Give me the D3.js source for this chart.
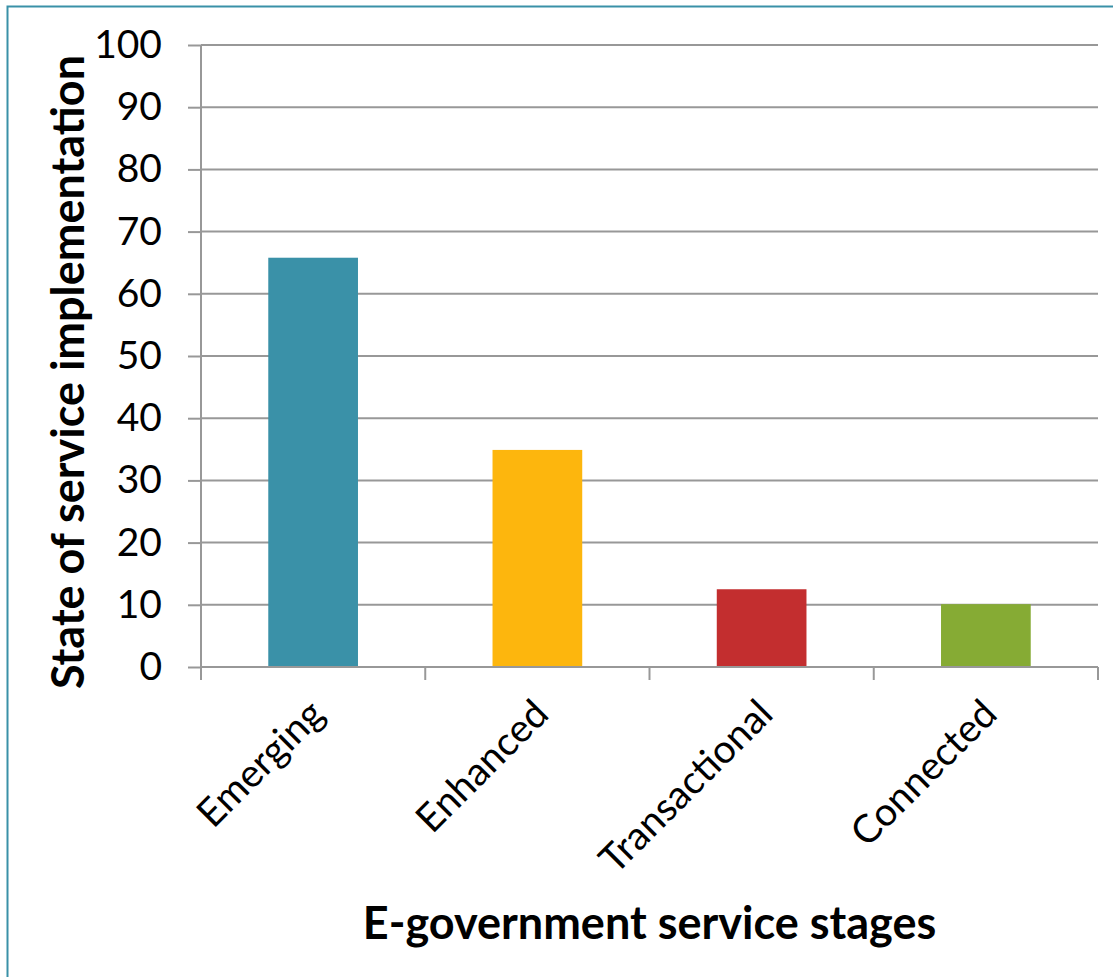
<!DOCTYPE html>
<html>
<head>
<meta charset="utf-8">
<script src="https://cdn.jsdelivr.net/npm/d3@7"></script>
<style>
  html, body { margin: 0; padding: 0; background: #fff; }
  svg { display: block; }
  text { font-family: Lato, "Open Sans", sans-serif; fill: #000; }
</style>
</head>
<body>
<svg id="chart" width="1113" height="977"></svg>
<script>
// E-government service stages and their implementation level
const stages = ["Emerging", "Enhanced", "Transactional", "Connected"];
const implementation = [65.8, 34.9, 12.5, 10.1];
const barColors = ["#3a91a8", "#fdb60d", "#c32e2f", "#86ab34"];
const yTicks = [0, 10, 20, 30, 40, 50, 60, 70, 80, 90, 100];

const svg = d3.select("#chart");
const margin = { left: 201, right: 15, top: 45, bottom: 310 };
const W = 1113, H = 977;

// outer frame
svg.append("rect")
  .attr("x", 7.5).attr("y", 6.5)
  .attr("width", 1120).attr("height", 1000)
  .attr("fill", "none").attr("stroke", "#3a91a8").attr("stroke-width", 2);

const x = d3.scaleBand()
  .domain(stages)
  .range([margin.left, W - margin.right])
  .paddingInner(0.6).paddingOuter(0.3);

const y = d3.scaleLinear()
  .domain([0, 100])
  .range([H - margin.bottom, margin.top]);

const gridColor = "#989898";

// y ticks
const yAxis = svg.append("g")
  .attr("transform", `translate(${margin.left},0)`)
  .call(d3.axisLeft(y).tickValues(yTicks).tickSize(13).tickPadding(26));
yAxis.select(".domain").remove();
yAxis.selectAll(".tick line").attr("stroke", gridColor).attr("stroke-width", 2);
yAxis.selectAll(".tick text")
  .attr("font-size", 39).attr("font-family", "Lato, sans-serif").attr("fill", "#000");

// horizontal gridlines
svg.append("g")
  .selectAll("line")
  .data(yTicks.filter(d => d > 0))
  .join("line")
  .attr("x1", margin.left).attr("x2", W - margin.right)
  .attr("y1", d => y(d)).attr("y2", d => y(d))
  .attr("stroke", gridColor).attr("stroke-width", 2);

// y axis line
svg.append("line")
  .attr("x1", margin.left).attr("x2", margin.left)
  .attr("y1", y(100)).attr("y2", y(0) + 13)
  .attr("stroke", gridColor).attr("stroke-width", 2);

// bars
svg.append("g")
  .selectAll("rect")
  .data(stages)
  .join("rect")
  .attr("x", d => x(d))
  .attr("width", x.bandwidth())
  .attr("y", (d, i) => y(implementation[i]))
  .attr("height", (d, i) => y(0) - y(implementation[i]))
  .attr("fill", (d, i) => barColors[i]);

// x axis baseline and category separators
const bounds = d3.range(stages.length + 1).map(i => margin.left + i * (W - margin.right - margin.left) / stages.length);
svg.append("line")
  .attr("x1", margin.left).attr("x2", W - margin.right)
  .attr("y1", y(0)).attr("y2", y(0))
  .attr("stroke", gridColor).attr("stroke-width", 2);
svg.append("g")
  .selectAll("line")
  .data(bounds.slice(1))
  .join("line")
  .attr("x1", d => d).attr("x2", d => d)
  .attr("y1", y(0)).attr("y2", y(0) + 13)
  .attr("stroke", gridColor).attr("stroke-width", 2);

// rotated category labels
svg.append("g")
  .selectAll("text")
  .data(stages)
  .join("text")
  .attr("transform", d => `translate(${x(d) + x.bandwidth() / 2 - 6},${y(0) + 30}) rotate(-45)`)
  .attr("text-anchor", "end")
  .attr("dy", "0.7em")
  .attr("font-size", 39)
  .text(d => d);

// axis titles
svg.append("text")
  .attr("x", (margin.left + W - margin.right) / 2)
  .attr("y", 939)
  .attr("text-anchor", "middle")
  .attr("font-size", 45)
  .attr("font-weight", "bold")
  .text("E-government service stages");

svg.append("text")
  .attr("transform", `translate(84,372) rotate(-90)`)
  .attr("text-anchor", "middle")
  .attr("font-size", 45)
  .attr("font-weight", "bold")
  .text("State of service implementation");
</script>
</body>
</html>
